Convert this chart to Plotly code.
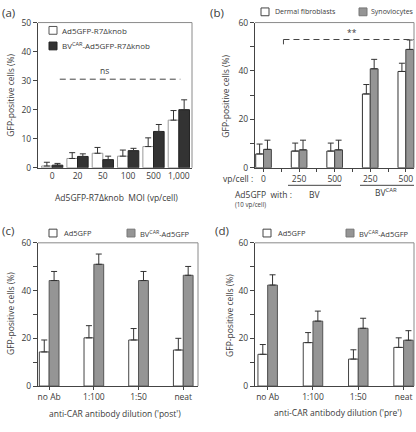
import plotly.graph_objects as go

# ---------------- data ----------------
# (a)
a_cats = ["0", "20", "50", "100", "500", "1,000"]
a_ad5 = [0.6, 3.2, 5.0, 4.0, 7.3, 16.4]
a_ad5_err = [1.3, 2.0, 2.0, 2.1, 3.0, 3.3]
a_bv = [0.9, 3.9, 2.8, 5.9, 12.5, 20.0]
a_bv_err = [0.6, 0.9, 1.2, 0.8, 2.4, 3.4]

# (b)
b_cats = ["0", "250", "500", "250", "500"]
b_derm = [5.7, 6.9, 6.9, 30.5, 39.8]
b_derm_err = [4.1, 3.3, 3.3, 3.9, 3.4]
b_syn = [7.6, 7.4, 7.4, 40.9, 48.9]
b_syn_err = [3.8, 4.0, 4.0, 3.9, 3.9]

# (c)
c_cats = ["no Ab", "1:100", "1:50", "neat"]
c_ad5 = [14.3, 20.2, 19.3, 15.1]
c_ad5_err = [5.0, 5.1, 4.8, 4.9]
c_bv = [44.2, 51.0, 44.2, 46.4]
c_bv_err = [3.8, 4.3, 3.8, 3.7]

# (d)
d_cats = ["no Ab", "1:100", "1:50", "neat"]
d_ad5 = [13.3, 18.2, 11.3, 16.2]
d_ad5_err = [4.1, 4.2, 3.9, 4.0]
d_bv = [42.3, 27.2, 24.2, 19.2]
d_bv_err = [4.3, 4.2, 4.2, 4.0]

W, H = 416, 432
FONT = "Open Sans"
TXT = "#3a3a3a"
AX = "#444444"


def px(x):
    return x / W


def py(y):
    return 1 - y / H


fig = go.Figure()


def add_pair(xa, ya, v1, e1, v2, e2, w, c1, l1, c2, l2):
    xs = list(range(len(v1)))
    for vals, errs, off, fc, lc in ((v1, e1, -w, c1, l1), (v2, e2, 0, c2, l2)):
        fig.add_trace(go.Bar(
            x=xs, y=vals, width=w, offset=off, xaxis=xa, yaxis=ya,
            marker=dict(color=fc, line=dict(color=lc, width=1)),
            error_y=dict(type="data", symmetric=False, array=errs,
                         arrayminus=[0] * len(errs), color="#333333",
                         thickness=1, width=3),
            showlegend=False))


add_pair("x", "y", a_ad5, a_ad5_err, a_bv, a_bv_err, 0.42,
         "white", "#9a9a9a", "#333333", "#222222")
add_pair("x2", "y2", b_derm, b_derm_err, b_syn, b_syn_err, 0.22,
         "white", "#333333", "#959595", "#444444")
add_pair("x3", "y3", c_ad5, c_ad5_err, c_bv, c_bv_err, 0.22,
         "white", "#444444", "#959595", "#555555")
add_pair("x4", "y4", d_ad5, d_ad5_err, d_bv, d_bv_err, 0.215,
         "white", "#444444", "#959595", "#555555")

tickfont = dict(family=FONT, size=8.5, color=TXT)


def yax(dom, rng, step, lab_step):
    vals = list(range(0, rng + 1, step))
    return dict(domain=dom, range=[0, rng], tickvals=vals,
                ticktext=[str(v) if v % lab_step == 0 else "" for v in vals],
                showline=True, linecolor=AX, linewidth=1.2, ticks="outside",
                ticklen=4, tickcolor=AX, showgrid=False, zeroline=False,
                tickfont=tickfont, fixedrange=True)


def xax(dom, rng, tv, tt, ticks):
    return dict(domain=dom, range=rng, tickvals=tv, ticktext=tt,
                showline=True, linecolor=AX, linewidth=1.2,
                ticks=ticks, ticklen=3, tickcolor=AX, showgrid=False,
                zeroline=False, tickfont=tickfont, fixedrange=True)


fig.update_layout(
    width=W, height=H, autosize=False,
    margin=dict(l=0, r=0, t=0, b=0),
    paper_bgcolor="white", plot_bgcolor="white",
    font=dict(family=FONT, color=TXT),
    xaxis=xax([px(38), px(192)], [-0.56, 5.52], list(range(6)), a_cats, ""),
    yaxis=yax([py(166), py(17)], 50, 10, 10),
    xaxis2=xax([px(255), px(414)], [-0.24, 4.23],
               [i / 2 for i in range(9)],
               [b_cats[i // 2] if i % 2 == 0 else "" for i in range(9)],
               "outside"),
    yaxis2=yax([py(166), py(17)], 60, 10, 20),
    xaxis3=xax([px(38), px(198)], [-0.25, 3.33], list(range(4)), c_cats,
               "outside"),
    yaxis3=yax([py(390), py(243)], 60, 10, 20),
    xaxis4=xax([px(255), px(414)], [-0.28, 3.23], list(range(4)), d_cats,
               "outside"),
    yaxis4=yax([py(390), py(243)], 60, 10, 20),
)
for i in range(1, 5):
    k = "" if i == 1 else str(i)
    fig.update_layout(**{f"yaxis{k}": dict(anchor=f"x{k}"),
                         f"xaxis{k}": dict(anchor=f"y{k}")})

shapes = []
# top/right frame lines
for k in ["", "2", "3", "4"]:
    shapes.append(dict(type="line", xref=f"x{k} domain", yref=f"y{k} domain",
                       x0=0, x1=1, y0=1, y1=1, line=dict(color="#8a8a8a", width=1)))
    shapes.append(dict(type="line", xref=f"x{k} domain", yref=f"y{k} domain",
                       x0=1, x1=1, y0=0, y1=1, line=dict(color="#8a8a8a", width=1)))

# significance lines
shapes.append(dict(type="line", xref="x", yref="y", x0=0.3, x1=5.06, y0=30.5, y1=30.5,
                   line=dict(color="#444", width=1, dash="6px,4px")))
shapes.append(dict(type="line", xref="x2", yref="y2", x0=0.56, x1=4.23, y0=53, y1=53,
                   line=dict(color="#444", width=1, dash="6px,4px")))
shapes.append(dict(type="line", xref="x2", yref="y2", x0=0.56, x1=0.56, y0=51, y1=53,
                   line=dict(color="#444", width=1)))
# b group underlines
shapes.append(dict(type="line", xref="paper", yref="paper", x0=px(288), x1=px(341),
                   y0=py(184), y1=py(184), line=dict(color="#444", width=1)))
shapes.append(dict(type="line", xref="paper", yref="paper", x0=px(360), x1=px(414),
                   y0=py(184), y1=py(184), line=dict(color="#444", width=1)))


def sq(x0, y0, fill, line):
    shapes.append(dict(type="rect", xref="paper", yref="paper",
                       x0=px(x0), x1=px(x0 + 8), y0=py(y0), y1=py(y0 + 8),
                       fillcolor=fill, line=dict(color=line, width=1)))


sq(49, 21, "white", "#555")
sq(49, 37, "#333333", "#222")
sq(261, 2, "white", "#444")
sq(359, 2, "#959595", "#777")
sq(49, 229, "white", "#444")
sq(127, 229, "#959595", "#777")
sq(263, 229, "white", "#444")
sq(346, 229, "#959595", "#777")

fig.update_layout(shapes=shapes)

ann = []


def t(x, y, s, size=8.5, xa="left", angle=0, ya="middle"):
    ann.append(dict(x=px(x), y=py(y), xref="paper", yref="paper", text=s,
                    showarrow=False, xanchor=xa, yanchor=ya, textangle=angle,
                    font=dict(family=FONT, size=size, color=TXT)))


# panel labels
t(0, 7, "(a)", 11.5)
t(208, 7, "(b)", 11.5)
t(0, 230, "(c)", 11.5)
t(213, 230, "(d)", 11.5)
# legends
t(60, 25, "Ad5GFP-R7Δknob", 8)
t(60, 41, "BV<sup>CAR</sup>-Ad5GFP-R7Δknob", 8)
t(273, 6, "Dermal fibroblasts", 7)
t(369, 6, "Synoviocytes", 7)
t(62, 233, "Ad5GFP", 7.5)
t(138, 233, "BV<sup>CAR</sup>-Ad5GFP", 7.5)
t(276, 233, "Ad5GFP", 7.5)
t(357, 233, "BV<sup>CAR</sup>-Ad5GFP", 7.5)
# y titles
t(11, 92, "GFP-positive cells (%)", 8.5, "center", -90)
t(226, 92, "GFP-positive cells (%)", 8.5, "center", -90)
t(11, 316, "GFP-positive cells (%)", 8.5, "center", -90)
t(230, 318, "GFP-positive cells (%)", 8.5, "center", -90)
# x titles
t(116, 197, "Ad5GFP-R7Δknob  MOI (vp/cell)", 8.5, "center")
t(115, 418, "anti-CAR antibody dilution ('post')", 8.5, "center")
t(338, 417, "anti-CAR antibody dilution ('pre')", 8.5, "center")
# panel b extras
t(238, 177, "vp/cell :", 8.5, "center")
t(233, 193, "Ad5GFP  with :", 8.5)
t(314, 193, "BV", 8.5, "center")
t(386, 191, "BV<sup>CAR</sup>", 8.5, "center")
t(233, 204, "(10 vp/cell)", 6.2)
# significance marks
ann.append(dict(x=2.08, y=33.5, xref="x", yref="y", text="ns", showarrow=False,
                xanchor="center", yanchor="middle",
                font=dict(family=FONT, size=8.5, color=TXT)))
ann.append(dict(x=2.5, y=56, xref="x2", yref="y2", text="**", showarrow=False,
                xanchor="center", yanchor="middle",
                font=dict(family=FONT, size=8.5, color=TXT)))

fig.update_layout(annotations=ann)

fig.write_html("out.html", config={"displayModeBar": False},
               post_script="document.body.style.margin='0';"
                           "document.body.style.overflow='hidden';")
